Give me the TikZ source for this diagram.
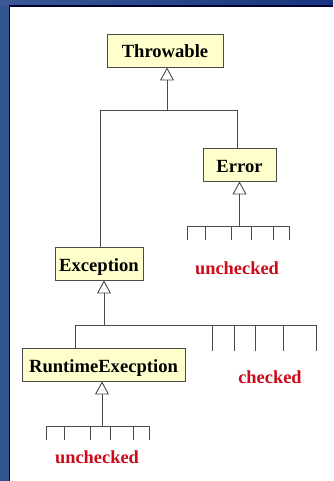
\documentclass[tikz,border=0pt]{standalone}
\usepackage{fontspec}
\setmainfont{Liberation Serif}
\usetikzlibrary{arrows.meta}
\definecolor{frameblue}{HTML}{34548E}
\definecolor{frameblueL}{HTML}{3A5894}
\definecolor{frameblueR}{HTML}{18347F}
\definecolor{boxfill}{HTML}{FFFFCC}
\definecolor{linegray}{HTML}{4A4A4A}
\definecolor{tagred}{HTML}{CC0A1A}
\tikzset{
  cls/.style={draw=linegray, fill=boxfill, line width=0.9pt, minimum height=33pt,
    inner sep=0pt, text height=15pt, text depth=0pt,
    font=\fontsize{18.6}{20}\selectfont\bfseries, text=black},
  tree/.style={draw=linegray, line width=0.9pt},
  inherit/.style={tree, -{Triangle[open, length=13pt, width=14pt, line width=0.9pt]}},
  tag/.style={font=\fontsize{18.4}{20}\selectfont\bfseries, text=tagred, inner sep=0pt}
}
\begin{document}
\begin{tikzpicture}[x=1pt, y=-1pt]
  \useasboundingbox (0,0) rectangle (333,481);
  % slide frame
  \fill[white] (0,0) rectangle (333,481);
  \fill[frameblue] (0,0) rectangle (10,481);
  \shade[left color=frameblueL, right color=frameblueR] (0,0) rectangle (333,6);
  \draw[black!80!blue, line width=1.2pt] (9.8,481) -- (9.8,6) -- (333,6);

  % classes
  \node[cls, minimum width=116pt] (thr) at (165,50.5) {Throwable};
  \node[cls, minimum width=73pt]  (err) at (239.5,164.5) {Error};
  \node[cls, minimum width=88pt]  (exc) at (99,263.5) {Exception};
  \node[cls, minimum width=163pt] (rte) at (103.5,364.5) {RuntimeExecption};

  % labels
  \node[tag] (u1) at (237,268) {unchecked};
  \node[tag] (ck) at (270,377) {checked};
  \node[tag] (u2) at (97,457) {unchecked};

  % Throwable subtree
  \coordinate (t0) at (167,110);
  \coordinate (tl) at (100,110);
  \coordinate (tr) at (237,110);
  \draw[inherit] (t0) -- (t0 |- thr.south);
  \draw[tree] (tl) -- (tr);
  \draw[tree] (tl) -- (tl |- exc.north);
  \draw[tree] (tr) -- (tr |- err.north);

  % Error subtree
  \coordinate (e0) at (239.5,226);
  \draw[inherit] (e0) -- (e0 |- err.south);
  \draw[tree] (187,226) -- (289,226);
  \foreach \x in {187,205,231,251,273,289}
    \draw[tree] (\x,226) -- (\x,240);

  % Exception subtree
  \coordinate (x0) at (104,325);
  \coordinate (xl) at (75,325);
  \draw[inherit] (x0) -- (x0 |- exc.south);
  \draw[tree] (xl) -- (316,325);
  \draw[tree] (xl) -- (xl |- rte.north);
  \foreach \x in {212,234,255,283,316}
    \draw[tree] (\x,325) -- (\x,351);

  % RuntimeExecption subtree
  \coordinate (r0) at (102,426);
  \draw[inherit] (r0) -- (r0 |- rte.south);
  \draw[tree] (46,426) -- (149,426);
  \foreach \x in {46,64,90,110,133,149}
    \draw[tree] (\x,426) -- (\x,440);
\end{tikzpicture}
\end{document}
